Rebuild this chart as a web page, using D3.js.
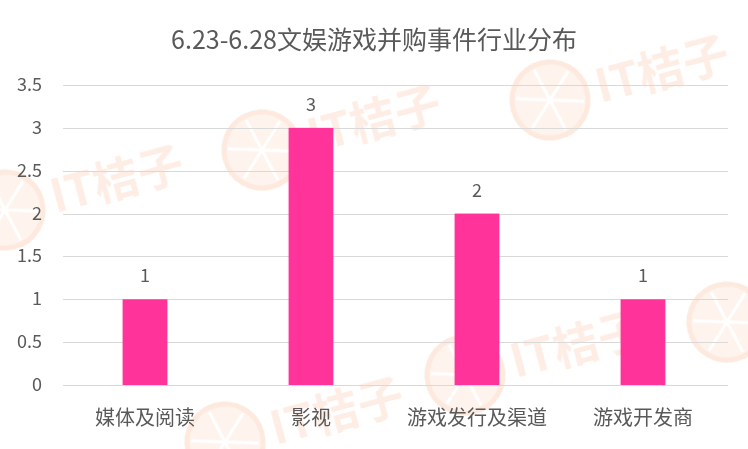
<!DOCTYPE html>
<html>
<head>
<meta charset="utf-8">
<script src="https://cdn.jsdelivr.net/npm/d3@7"></script>
<style>
  body { margin: 0; background: #fff; }
  svg { display: block; font-family: "Noto Sans CJK SC", "Open Sans", sans-serif; }
</style>
</head>
<body>
<div id="chart"></div>
<script>
var title = '6.23-6.28文娱游戏并购事件行业分布';
var categories = ['媒体及阅读', '影视', '游戏发行及渠道', '游戏开发商'];
var values = [1, 3, 2, 1];
var y_ticks = [0, 0.5, 1, 1.5, 2, 2.5, 3, 3.5];
// watermark logo anchors (circle centre, show text)
var marks = [[5, 210, true], [262, 150, true], [550, 100, true], [465, 375, true], [727, 322, false], [225, 442, true]];

var width = 748, height = 449;
var plot_left = 62, plot_right = 726, plot_top = 85, plot_bottom = 385;
var text_col = '#595959';

var svg = d3.select('#chart').append('svg:svg')
  .attr('width', width)
  .attr('height', height);

// watermark
var wm = svg.append('svg:g').attr('opacity', 0.4);
marks.forEach(function(m) {
  var g = wm.append('svg:g').attr('transform', 'translate(' + m[0] + ',' + m[1] + ') rotate(-15)');
  g.append('svg:circle').attr('r', 38).attr('fill', '#fde3d3').attr('stroke', '#f9c9ad').attr('stroke-width', 5);
  for(let a = 0; a < 6; a++) {
    let t = a * Math.PI / 3 + 0.3;
    g.append('svg:line')
      .attr('x1', 0).attr('y1', 0)
      .attr('x2', 34 * Math.cos(t)).attr('y2', 34 * Math.sin(t))
      .attr('stroke', '#fff').attr('stroke-width', 3);
  }
  if(m[2]) {
    g.append('svg:text')
      .attr('x', 48).attr('y', 16)
      .attr('font-size', '46px')
      .attr('font-weight', 'bold')
      .attr('fill', '#fbd3bd')
      .text('IT桔子');
  }
});

var x = d3.scaleBand().domain(categories).range([plot_left, plot_right]).paddingInner(0.73).paddingOuter(0.365);
var y = d3.scaleLinear().domain([0, 3.5]).range([plot_bottom, plot_top]);

svg.append('svg:g')
  .selectAll('line')
  .data(y_ticks)
  .join('svg:line')
  .attr('x1', plot_left + 1).attr('x2', plot_right + 2)
  .attr('y1', function(d) { return Math.round(y(d)) + 0.5; })
  .attr('y2', function(d) { return Math.round(y(d)) + 0.5; })
  .attr('stroke', '#d9d9d9')
  .attr('stroke-width', 1);

svg.append('svg:g')
  .selectAll('text')
  .data(y_ticks)
  .join('svg:text')
  .attr('x', 42)
  .attr('y', function(d) { return y(d) + 6; })
  .attr('text-anchor', 'end')
  .attr('font-size', '18px')
  .attr('fill', text_col)
  .text(function(d) { return d; });

svg.append('svg:g')
  .selectAll('rect')
  .data(values)
  .join('svg:rect')
  .attr('x', function(d, i) { return x(categories[i]); })
  .attr('width', x.bandwidth())
  .attr('y', function(d) { return y(d); })
  .attr('height', function(d) { return y(0) - y(d); })
  .attr('fill', '#ff3399');

svg.append('svg:g')
  .selectAll('text')
  .data(values)
  .join('svg:text')
  .attr('x', function(d, i) { return x(categories[i]) + x.bandwidth() / 2; })
  .attr('y', function(d) { return y(d) - 17; })
  .attr('text-anchor', 'middle')
  .attr('font-size', '18px')
  .attr('fill', text_col)
  .text(function(d) { return d; });

svg.append('svg:g')
  .selectAll('text')
  .data(categories)
  .join('svg:text')
  .attr('x', function(d) { return x(d) + x.bandwidth() / 2; })
  .attr('y', 425)
  .attr('text-anchor', 'middle')
  .attr('font-size', '20px')
  .attr('fill', text_col)
  .text(function(d) { return d; });

svg.append('svg:text')
  .attr('x', 374)
  .attr('y', 49)
  .attr('text-anchor', 'middle')
  .attr('font-size', '25px')
  .attr('fill', text_col)
  .text(title);
</script>
</body>
</html>
